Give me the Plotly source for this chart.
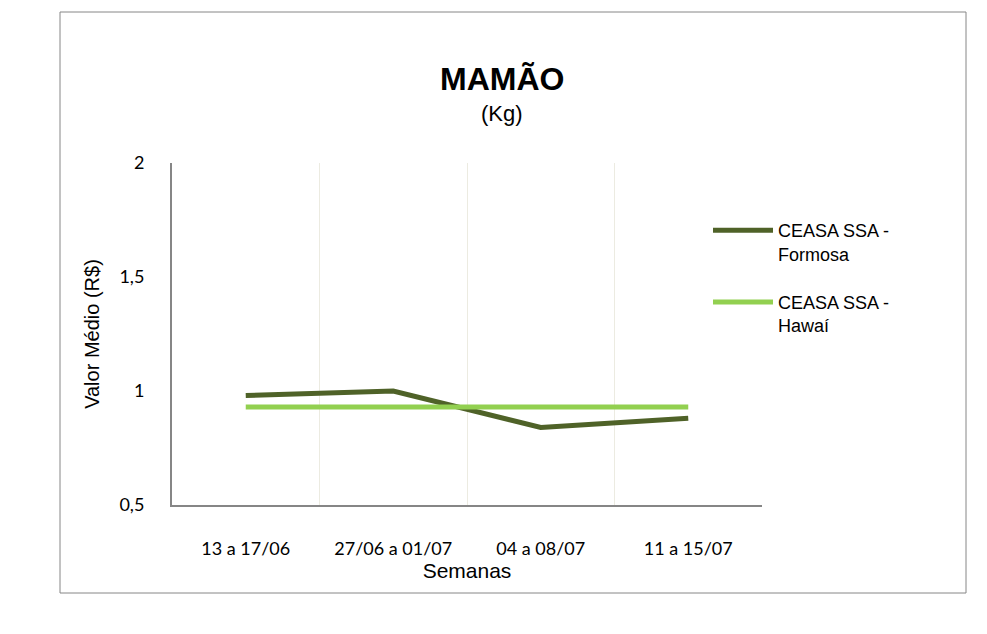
import plotly.graph_objects as go

semanas = ["13 a 17/06", "27/06 a 01/07", "04 a 08/07", "11 a 15/07"]
formosa = [0.98, 1.00, 0.84, 0.88]
hawai = [0.93, 0.93, 0.93, 0.93]

W, H = 987, 634
OFF = 8  # page body margin
# plot area in screen pixels
X0, X1, Y0, Y1 = 172, 762, 163, 505
pw, ph = X1 - X0, Y1 - Y0
FW, FH = W - 2 * OFF, H - 2 * OFF
ml, mt = X0 - OFF, Y0 - OFF
mr, mb = FW - ml - pw, FH - mt - ph

def px_x(x):
    return (x - X0) / pw

def px_y(y):
    return (Y1 - y) / ph

fig = go.Figure()
fig.add_trace(go.Scatter(
    x=semanas, y=formosa, mode="lines", name="CEASA SSA -<br>Formosa",
    line=dict(color="#4f6228", width=5), legendgroup="a"
))
fig.add_trace(go.Scatter(
    x=semanas, y=hawai, mode="lines", name="CEASA SSA -<br>Hawaí",
    line=dict(color="#92d050", width=5), legendgroup="b"
))

fig.update_xaxes(
    range=[-0.5, 3.5], tickson="boundaries", showgrid=True, gridcolor="#ecebe1", gridwidth=1,
    showline=True, linecolor="#868686", linewidth=2, ticks="",
    ticklabelstandoff=26,
    tickfont=dict(family="Lato", size=18, color="#000"),
    title=dict(text="Semanas", font=dict(family="Arial", size=21, color="#000"), standoff=0),
    fixedrange=True
)
fig.update_yaxes(
    range=[0.5, 2], tickvals=[0.5, 1, 1.5, 2], showgrid=False, zeroline=False,
    showline=True, linecolor="#868686", linewidth=2, ticks="",
    ticklabelstandoff=22,
    tickfont=dict(family="Lato", size=18, color="#000"),
    title=dict(text="Valor Médio (R$)", font=dict(family="Arial", size=20, color="#000"), standoff=14),
    fixedrange=True
)

# outer frame of the chart area
fig.add_shape(type="rect", xref="paper", yref="paper",
              x0=px_x(60), x1=px_x(966), y0=px_y(593), y1=px_y(12),
              line=dict(color="#868686", width=1))

fig.add_annotation(text="<b>MAMÃO</b>", xref="paper", yref="paper",
                   x=px_x(502), y=px_y(79), yanchor="middle", showarrow=False,
                   font=dict(family="Arial", size=32, color="#000"))
fig.add_annotation(text="(Kg)", xref="paper", yref="paper",
                   x=px_x(502), y=px_y(113), yanchor="middle", showarrow=False,
                   font=dict(family="Arial", size=22, color="#000"))

fig.update_layout(
    width=FW, height=FH,
    margin=dict(l=ml, r=mr, t=mt, b=mb, autoexpand=False),
    paper_bgcolor="white", plot_bgcolor="white",
    separators=",.",
    showlegend=True,
    legend=dict(
        x=px_x(708), y=px_y(212), xanchor="left", yanchor="top",
        font=dict(family="Arial", size=18, color="#000"),
        tracegroupgap=22, bgcolor="rgba(0,0,0,0)", itemwidth=60, valign="top"
    ),
)

fig.write_html("out.html")
